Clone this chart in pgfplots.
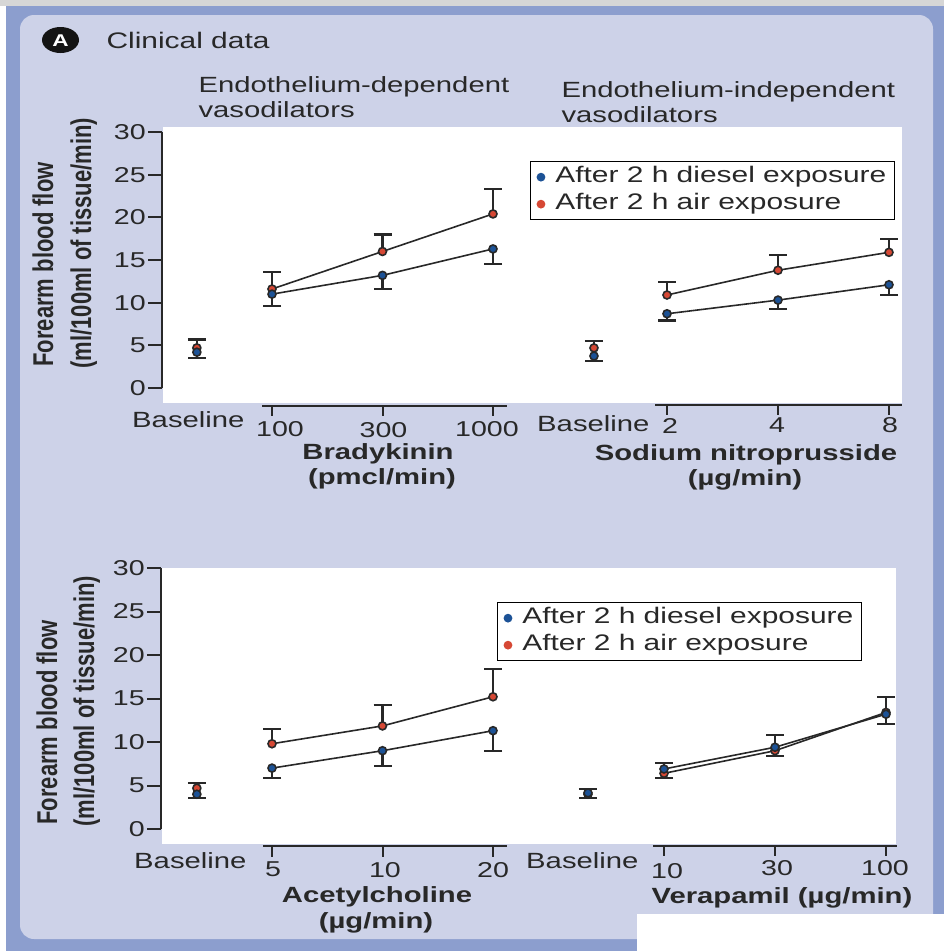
\documentclass[border=0pt]{standalone}
\usepackage{pgfplots}
\pgfplotsset{compat=1.18}
\usepackage{fontspec}
\setmainfont{Liberation Sans}[FakeStretch=1.33]
\newfontfamily\plainsans{Liberation Sans}
\definecolor{frameblue}{RGB}{140,158,206}
\definecolor{lav}{RGB}{205,210,232}
\definecolor{topgrey}{RGB}{214,214,214}
\definecolor{dblue}{RGB}{28,82,150}
\definecolor{dred}{RGB}{214,72,52}
\definecolor{ink}{RGB}{40,40,40}
\pgfplotsset{
  panel/.style={scale only axis, hide axis, clip=false, ymin=0, ymax=30, xmin=0, xmax=3.2, anchor=south west},
  ser/.style={line width=1.6pt, color=ink, mark=*, mark size=4pt, mark options={draw=none, fill=#1}},
  ebar/.style={error bars/y dir=#1, error bars/y explicit,
     error bars/error bar style={line width=2.3pt, ink},
     error bars/error mark options={rotate=90, mark size=9pt, line width=2.3pt, ink}},
  leg/.style={legend style={at={#1}, anchor=north east, draw=black, line width=1.3pt, fill=white,
     inner xsep=6pt, inner ysep=2pt, font=\fontsize{22.5}{26}\selectfont,
     nodes={inner sep=2pt, text height=17pt, text depth=6pt},
     /tikz/every odd column/.append style={column sep=8pt}}, legend cell align=left},
}
\begin{document}
\begin{tikzpicture}[x=1pt,y=-1pt,font=\fontsize{22}{25}\selectfont, text=ink]
\path[use as bounding box] (0,0) rectangle (944,951);
% frame
\fill[white] (0,0) rectangle (944,951);
\fill[frameblue] (6,6) rectangle (944,951);
\fill[topgrey] (0,0) rectangle (944,6);
\fill[lav, rounded corners=14pt] (20,15) rectangle (933,939);
\fill[white] (163,127) rectangle (902,403);
\fill[white] (162,568) rectangle (896,844);
\fill[white] (637,914) rectangle (944,951);
% header
\fill[black!92] (60.5,40) ellipse [x radius=18.5, y radius=13];
\node[text=white, font=\fontsize{17}{17}\selectfont\bfseries, anchor=base] at (60.5,46.5) {A};
\node[anchor=base west, font=\fontsize{22.5}{25}\selectfont] at (103,48) {Clinical data};
\node[anchor=base west] at (195,92) {Endothelium-dependent};
\node[anchor=base west] at (195,117) {vasodilators};
\node[anchor=base west] at (558,97) {Endothelium-independent};
\node[anchor=base west] at (558,122) {vasodilators};
% y labels
\node[rotate=90, anchor=base west] at (53,370) {\scalebox{1}[1.3]{\plainsans\bfseries\fontsize{22}{25}\selectfont Forearm blood flow}};
\node[rotate=90, anchor=base west] at (91,372) {\scalebox{1}[1.3]{\plainsans\bfseries\fontsize{22}{25}\selectfont (ml/100ml of tissue/min)}};
\node[rotate=90, anchor=base west] at (57,828) {\scalebox{1}[1.3]{\plainsans\bfseries\fontsize{22}{25}\selectfont Forearm blood flow}};
\node[rotate=90, anchor=base west] at (94,830) {\scalebox{1}[1.3]{\plainsans\bfseries\fontsize{22}{25}\selectfont (ml/100ml of tissue/min)}};
% y axes
\draw[ink, line width=2pt] (162,132) -- (162,388);
\foreach \k/\yy in {0/388,5/345.33,10/302.67,15/260,20/217.33,25/174.67,30/132}{
  \draw[ink, line width=2pt] (148,\yy) -- (162,\yy);
  \node[anchor=east, inner sep=1pt, font=\fontsize{21.5}{24}\selectfont] at (147,\yy) {\k};
}
\draw[ink, line width=2pt] (161,568) -- (161,829);
\foreach \k/\yy in {0/829,5/785.5,10/742,15/698.5,20/655,25/611.5,30/568}{
  \draw[ink, line width=2pt] (147,\yy) -- (161,\yy);
  \node[anchor=east, inner sep=1pt, font=\fontsize{21.5}{24}\selectfont] at (146,\yy) {\k};
}
% x axes
\draw[ink, line width=2pt] (262,405.5) -- (507,405.5);
\foreach \xx in {272,382.5,493}{\draw[ink, line width=2pt] (\xx,405.5) -- (\xx,416);}
\draw[ink, line width=2pt] (655,405) -- (902,405);
\foreach \xx in {667,778,889}{\draw[ink, line width=2pt] (\xx,405) -- (\xx,415);}
\draw[ink, line width=2pt] (263,846) -- (507,846);
\foreach \xx in {272,382.5,493}{\draw[ink, line width=2pt] (\xx,846) -- (\xx,857);}
\draw[ink, line width=2pt] (653,846) -- (897,846);
\foreach \xx in {664,775,886}{\draw[ink, line width=2pt] (\xx,846) -- (\xx,856);}
% x tick labels
\begin{scope}[font=\fontsize{21.5}{24}\selectfont]
\node[anchor=base] at (280,436) {100};
\node[anchor=base] at (383.5,437) {300};
\node[anchor=base] at (487,436) {1000};
\node[anchor=base] at (670,433) {2};
\node[anchor=base] at (777,432) {4};
\node[anchor=base] at (890,432) {8};
\node[anchor=base] at (273,876) {5};
\node[anchor=base] at (385,877) {10};
\node[anchor=base] at (493,877) {20};
\node[anchor=base] at (667,878) {10};
\node[anchor=base] at (777,875) {30};
\node[anchor=base] at (885,875) {100};
\end{scope}
\node[anchor=base east] at (248,427) {Baseline};
\node[anchor=base east] at (653,431) {Baseline};
\node[anchor=base east] at (250,868) {Baseline};
\node[anchor=base east] at (642,868) {Baseline};
% axis titles
\begin{scope}[font=\fontsize{22}{25}\selectfont\bfseries]
\node[anchor=base] at (378,459) {Bradykinin};
\node[anchor=base] at (382,484) {(pmcl/min)};
\node[anchor=base] at (746,460) {Sodium nitroprusside};
\node[anchor=base] at (745,485) {(µg/min)};
\node[anchor=base] at (377,902) {Acetylcholine};
\node[anchor=base] at (376,928) {(µg/min)};
\node[anchor=base] at (782,903) {Verapamil (µg/min)};
\end{scope}
% ---- top left: bradykinin
\begin{axis}[panel, xmax=3.3, width=364.65pt, height=256pt, at={(161.5pt,-388pt)}]
\addplot[forget plot, only marks, ser=dred, ebar=plus] coordinates {(0.32,4.7) +- (0,1.0)};
\addplot[forget plot, only marks, ser=dblue, ebar=minus] coordinates {(0.32,4.2) +- (0,0.7)};
\addplot[forget plot, ser=dred, ebar=plus] coordinates {(1,11.6) +- (0,2.0) (2,16.0) +- (0,2.0) (3,20.4) +- (0,2.9)};
\addplot[forget plot, ser=dblue, ebar=minus] coordinates {(1,11.0) +- (0,1.4) (2,13.2) +- (0,1.6) (3,16.3) +- (0,1.8)};
\end{axis}
% ---- top right: sodium nitroprusside
\begin{axis}[panel, width=355.2pt, height=256pt, at={(556pt,-388pt)}, leg={(axis description cs:0.9544,0.8867)}]
\addlegendimage{legend image code/.code={\fill[dblue] (0pt,0pt) circle (3.7pt);}}
\addlegendentry{After 2 h diesel exposure}
\addlegendimage{legend image code/.code={\fill[dred] (0pt,0pt) circle (3.7pt);}}
\addlegendentry{After 2 h air exposure}
\addplot[forget plot, only marks, ser=dred, ebar=plus] coordinates {(0.342,4.7) +- (0,0.8)};
\addplot[forget plot, only marks, ser=dblue, ebar=minus] coordinates {(0.342,3.75) +- (0,0.55)};
\addplot[forget plot, ser=dred, ebar=plus] coordinates {(1,10.9) +- (0,1.5) (2,13.8) +- (0,1.8) (3,15.9) +- (0,1.6)};
\addplot[forget plot, ser=dblue, ebar=minus] coordinates {(1,8.7) +- (0,0.8) (2,10.3) +- (0,1.05) (3,12.1) +- (0,1.2)};
\end{axis}
% ---- bottom left: acetylcholine
\begin{axis}[panel, xmax=3.3, width=364.65pt, height=261pt, at={(161.5pt,-829pt)}]
\addplot[forget plot, only marks, ser=dred, ebar=plus] coordinates {(0.32,4.7) +- (0,0.6)};
\addplot[forget plot, only marks, ser=dblue, ebar=minus] coordinates {(0.32,4.0) +- (0,0.45)};
\addplot[forget plot, ser=dred, ebar=plus] coordinates {(1,9.8) +- (0,1.7) (2,11.85) +- (0,2.4) (3,15.2) +- (0,3.2)};
\addplot[forget plot, ser=dblue, ebar=minus] coordinates {(1,7.0) +- (0,1.15) (2,9.0) +- (0,1.75) (3,11.3) +- (0,2.3)};
\end{axis}
% ---- bottom right: verapamil
\begin{axis}[panel, width=355.2pt, height=261pt, at={(553pt,-829pt)}, leg={(axis description cs:0.870,0.8697)}]
\addlegendimage{legend image code/.code={\fill[dblue] (0pt,0pt) circle (3.7pt);}}
\addlegendentry{After 2 h diesel exposure}
\addlegendimage{legend image code/.code={\fill[dred] (0pt,0pt) circle (3.7pt);}}
\addlegendentry{After 2 h air exposure}
\addplot[forget plot, only marks, ser=dred, ebar=minus] coordinates {(0.315,4.0) +- (0,0.45)};
\addplot[forget plot, only marks, ser=dblue, ebar=plus] coordinates {(0.315,4.15) +- (0,0.45)};
\addplot[forget plot, ser=dred, ebar=minus] coordinates {(1,6.4) +- (0,0.55) (2,9.0) +- (0,0.6) (3,13.4) +- (0,1.3)};
\addplot[forget plot, ser=dblue, ebar=plus] coordinates {(1,6.9) +- (0,0.7) (2,9.4) +- (0,1.4) (3,13.2) +- (0,2.0)};
\end{axis}
\end{tikzpicture}
\end{document}
